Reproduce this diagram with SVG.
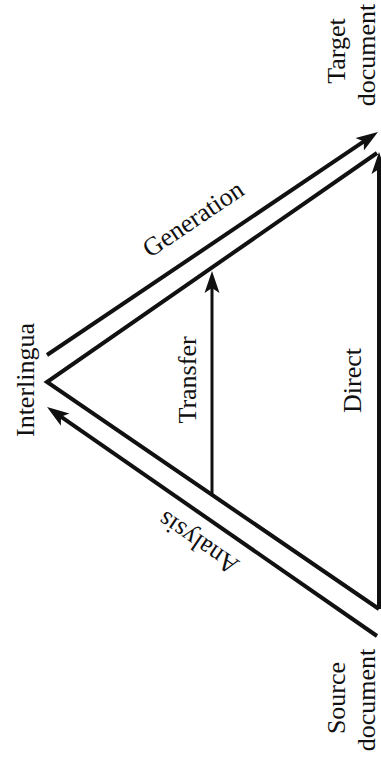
<svg xmlns="http://www.w3.org/2000/svg" width="381" height="763" viewBox="0 0 381 763">
<defs>
<style>
.lbl{font-family:"Liberation Serif","Times New Roman",serif;font-size:26px;fill:#111;text-anchor:middle}
.ln{fill:none;stroke:#111;stroke-width:4;stroke-linejoin:miter}
.thin{fill:none;stroke:#111;stroke-width:3}
</style>
<marker id="ah" markerUnits="userSpaceOnUse" markerWidth="30" markerHeight="20" refX="0" refY="0" orient="auto" overflow="visible">
<path d="M12,0 L-10,-7.5 L-5,0 L-10,7.5 Z" fill="#111"/>
</marker>
</defs>
<rect width="381" height="763" fill="#fff"/>
<g id="connectors">
<path id="triangle" class="ln" d="M377,153 L47,382 L379,609"/>
<path id="direct" class="ln" d="M379,609 L379,164" marker-end="url(#ah)"/>
<path id="transfer" class="thin" d="M212,494 L212,283" marker-end="url(#ah)"/>
<path id="generation" class="ln" d="M47,355 L368,138.7" marker-end="url(#ah)"/>
<path id="analysis" class="ln" d="M377,636 L56.9,413.9" marker-end="url(#ah)"/>
</g>
<g id="node-interlingua"><text class="lbl" transform="translate(34,380) rotate(-90)">Interlingua</text></g>
<g id="node-source"><text class="lbl" transform="translate(345,698) rotate(-90)">Source</text><text class="lbl" transform="translate(374.5,700) rotate(-90)">document</text></g>
<g id="node-target"><text class="lbl" transform="translate(345,51) rotate(-90)">Target</text><text class="lbl" transform="translate(374.5,55) rotate(-90)">document</text></g>
<g id="label-generation"><text class="lbl" transform="translate(198,226) rotate(-34)">Generation</text></g>
<g id="label-analysis"><text class="lbl" transform="translate(203,536) rotate(214.5)">Analysis</text></g>
<g id="label-transfer"><text class="lbl" transform="translate(196,380) rotate(-90)">Transfer</text></g>
<g id="label-direct"><text class="lbl" transform="translate(361,380.5) rotate(-90)">Direct</text></g>
</svg>
